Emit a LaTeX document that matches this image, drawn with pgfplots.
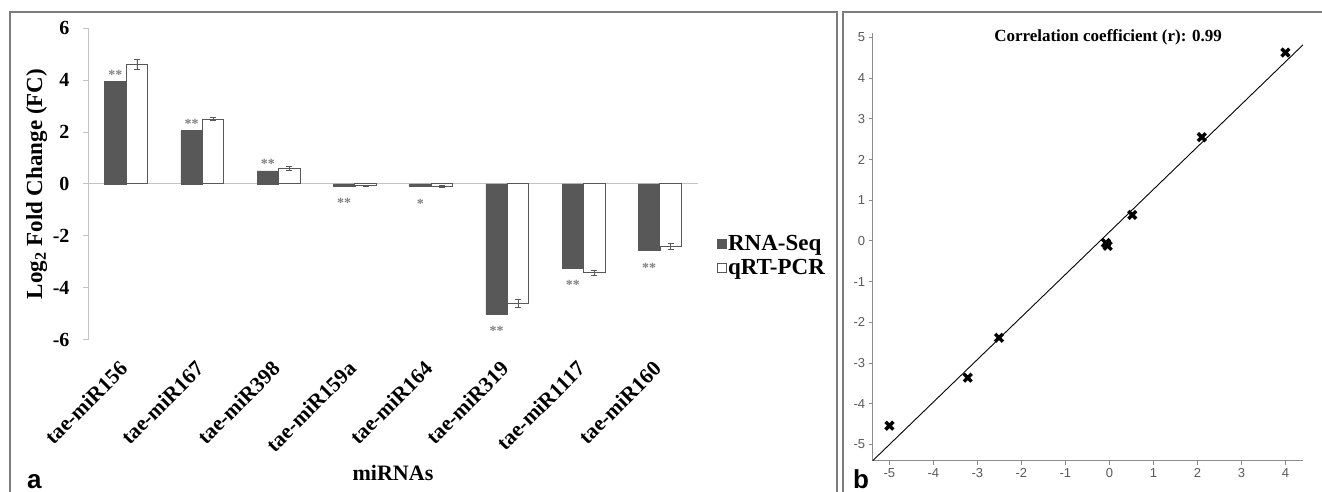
\documentclass[border=0pt]{standalone}
\usepackage{fontspec}
\setmainfont{Liberation Serif}
\newfontfamily\arial{Liberation Sans}
\usepackage{pgfplots}
\pgfplotsset{compat=1.18}
\definecolor{darkbar}{RGB}{88,88,88}
\definecolor{framegray}{RGB}{125,125,125}
\definecolor{axgray}{RGB}{195,195,195}
\definecolor{scgray}{RGB}{140,140,140}
\begin{document}
\begin{tikzpicture}[x=1pt,y=1pt]
\useasboundingbox (0,0) rectangle (1322,492);
\draw[framegray, line width=1.2pt] (10,-5) -- (10,480) -- (837,480) -- (837,-5);
\draw[framegray, line width=1.2pt] (843,-5) -- (843,480) -- (1330,480);

\begin{axis}[
  at={(88pt,152pt)}, anchor=south west,
  scale only axis, width=610pt, height=312pt,
  xmin=-0.5, xmax=7.5, ymin=-6, ymax=6,
  ybar=0pt, bar width=21.5pt,
  axis lines*=left,
  x axis line style={draw=none},
  y axis line style={axgray, line width=1pt},
  xtick={0,...,7},
  xticklabels={tae-miR156,tae-miR167,tae-miR398,tae-miR159a,tae-miR164,tae-miR319,tae-miR1117,tae-miR160},
  xtick style={draw=none},
  ytick={-6,-4,-2,0,2,4,6},
  ytick style={axgray, line width=1pt},
  tick align=outside, major tick length=5pt,
  /pgf/number format/assume math mode=true,
  yticklabel style={font=\bfseries\fontsize{20}{20}\selectfont, xshift=-10pt},
  xticklabel style={font=\bfseries\fontsize{21.5}{21.5}\selectfont, rotate=45, anchor=north east, xshift=-12.5pt, yshift=-1.4pt},
  extra y ticks={0}, extra y tick labels={},
  extra y tick style={grid=major, major grid style={axgray, line width=1pt}, tick style={draw=none}},
  ylabel={Log\textsubscript{2} Fold Change (FC)},
  ylabel style={font=\bfseries\fontsize{23}{23}\selectfont, at={(axis description cs:-0.084,0.5)}, anchor=center, rotate=0},
  xlabel={miRNAs},
  xlabel style={font=\bfseries\fontsize{22}{22}\selectfont, at={(axis description cs:0.5,-0.426)}, anchor=center},
  legend style={at={(axis description cs:1.03,0.27)}, anchor=west, draw=none, fill=none,
    font=\bfseries\fontsize{23}{23}\selectfont, row sep=3pt, inner sep=0pt},
  legend cell align=left,
  legend image code/.code={\draw[#1, line width=0.6pt] (0pt,-4.5pt) rectangle (9pt,4.5pt);},
]
\addplot[fill=darkbar, draw=darkbar, line width=0.5pt,
  visualization depends on={y \as \rawy},
  nodes near coords, point meta=explicit symbolic,
  every node near coord/.append style={font=\bfseries\fontsize{14}{14}\selectfont, text=gray, inner sep=2pt,
     anchor=south, yshift={ifthenelse(\rawy<0,-24,0)}}]
  coordinates {(0,3.95)[**] (1,2.05)[**] (2,0.50)[**] (3,-0.08)[**] (4,-0.10)[*] (5,-5.00)[**] (6,-3.24)[**] (7,-2.55)[**]};
\addplot[fill=white, draw=darkbar, line width=1pt,
  error bars/.cd, y dir=both, y explicit,
  error bar style={darkbar, line width=0.7pt},
  error mark options={rotate=90, mark size=3pt, darkbar, line width=0.7pt}]
  coordinates {(0,4.60) +- (0,0.18) (1,2.50) +- (0,0.07) (2,0.60) +- (0,0.08) (3,-0.06) +- (0,0.02)
               (4,-0.09) +- (0,0.05) (5,-4.60) +- (0,0.16) (6,-3.42) +- (0,0.09) (7,-2.40) +- (0,0.12)};
\legend{RNA-Seq, qRT-PCR}
\end{axis}

\begin{axis}[
  at={(872.7pt,31.3pt)}, anchor=south west,
  scale only axis, width=430.3pt, height=427.7pt,
  xmin=-5.38, xmax=4.40, ymin=-5.40, ymax=5.11,
  axis lines*=left,
  axis line style={scgray, line width=1.2pt},
  xtick={-5,...,4}, ytick={-5,...,5},
  tick style={scgray, line width=1pt}, tick align=outside, major tick length=4pt,
  /pgf/number format/assume math mode=true,
  ticklabel style={font=\arial\fontsize{13}{13}\selectfont, text=black!65},
  title={Correlation coefficient (r): 0.99},
  title style={font=\bfseries\fontsize{17}{17}\selectfont, at={(axis description cs:0.547,0.977)}, anchor=center},
]
\addplot[black, line width=0.9pt, no marks] coordinates {(-5.38,-5.40) (4.40,4.82)};
\addplot[only marks, mark=x, mark size=5.5pt, line width=3.4pt, black]
  coordinates {(4.00,4.63) (2.10,2.55) (0.52,0.64) (-0.08,-0.05) (-0.04,-0.12) (-5.00,-4.54) (-3.22,-3.36) (-2.51,-2.38)};
\end{axis}

\node[font=\arial\bfseries\fontsize{26}{26}\selectfont, anchor=base west, inner sep=0pt] at (27,3) {a};
\node[font=\arial\bfseries\fontsize{26}{26}\selectfont, anchor=base west, inner sep=0pt] at (853,3) {b};
\end{tikzpicture}
\end{document}
